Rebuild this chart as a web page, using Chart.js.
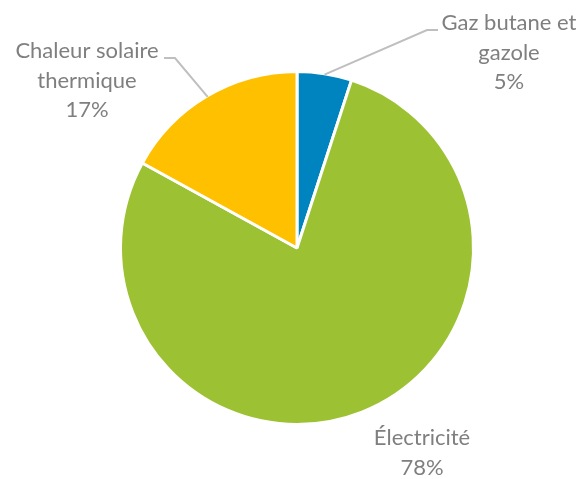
<!DOCTYPE html>
<html>
<head>
<meta charset="utf-8">
<script src="https://cdn.jsdelivr.net/npm/chart.js@4"></script>
<style>
html,body{margin:0;padding:0;background:#fff;}
canvas{display:block;}
</style>
</head>
<body>
<canvas id="c" width="581" height="479"></canvas>
<script>
const categories = ["Gaz butane et gazole", "Électricité", "Chaleur solaire thermique"];
const labelLines = [["Gaz butane et", "gazole"], ["Électricité"], ["Chaleur solaire", "thermique"]];
const values = [5, 78, 17];
const colors = ["#0084C0", "#9CC233", "#FFC000"];

// label layout: text centre x, first line y, leader elbow & end (null = no leader)
const labelLayout = [
  {x: 509, y: 23, elbow: [427, 30], end: [438, 30]},
  {x: 422, y: 438, elbow: null, end: null},
  {x: 87, y: 51, elbow: [175, 58], end: [164, 58]}
];

const FONT = '22px Lato, "Open Sans", sans-serif';
const LINE_H = 29.5;

const labelPlugin = {
  id: 'outLabels',
  afterDatasetsDraw(chart) {
    const ctx = chart.ctx;
    const meta = chart.getDatasetMeta(0);
    meta.data.forEach((arc, i) => {
      const p = arc.getProps(['x', 'y', 'startAngle', 'endAngle', 'outerRadius'], true);
      const mid = (p.startAngle + p.endAngle) / 2;
      const lay = labelLayout[i];
      ctx.save();
      if (lay.elbow) {
        const r = p.outerRadius - 1;
        ctx.strokeStyle = '#BFBFBF';
        ctx.lineWidth = 2;
        ctx.beginPath();
        ctx.moveTo(p.x + Math.cos(mid) * r, p.y + Math.sin(mid) * r);
        ctx.lineTo(lay.elbow[0], lay.elbow[1]);
        ctx.lineTo(lay.end[0], lay.end[1]);
        ctx.stroke();
      }
      ctx.fillStyle = '#7F7F7F';
      ctx.font = FONT;
      ctx.textAlign = 'center';
      ctx.textBaseline = 'middle';
      const lines = labelLines[i].concat([values[i] + '%']);
      lines.forEach((t, k) => ctx.fillText(t, lay.x, lay.y + k * LINE_H));
      ctx.restore();
    });
  }
};

new Chart(document.getElementById('c'), {
  type: 'pie',
  data: {
    labels: categories,
    datasets: [{
      data: values,
      backgroundColor: colors,
      borderColor: '#FFFFFF',
      borderWidth: 3
    }]
  },
  options: {
    responsive: false,
    animation: false,
    layout: {padding: {left: 13, right: 0, top: 70, bottom: 53}},
    plugins: {legend: {display: false}, tooltip: {enabled: false}}
  },
  plugins: [labelPlugin]
});
</script>
</body>
</html>
